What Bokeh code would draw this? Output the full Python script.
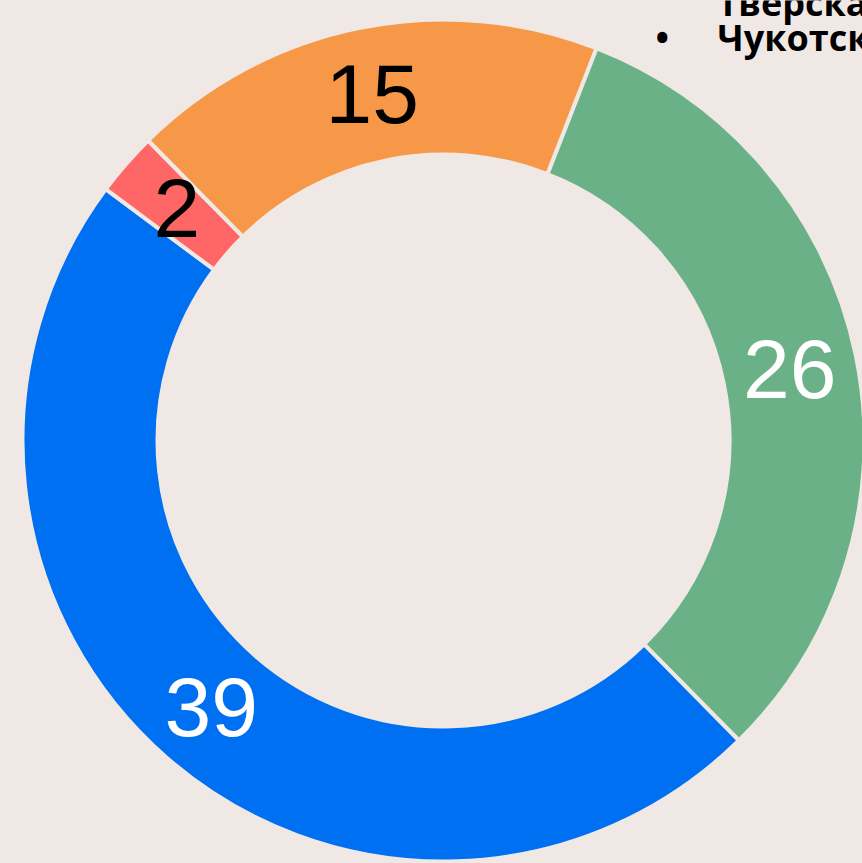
import math
from bokeh.plotting import figure
from bokeh.models import ColumnDataSource
from bokeh.core.properties import value
from bokeh.embed import file_html
from bokeh.resources import INLINE

# Data (clockwise order starting at the orange/green boundary)
categories = ["green", "blue", "red", "orange"]
values = [26, 39, 2, 15]
colors = ["#6AB187", "#0070F2", "#FF6666", "#F79848"]
label_colors = ["white", "white", "black", "black"]
legend_lines = ["Тверская область", "Чукотский автономный округ"]

BG = "#F0E8E5"
W, H = 862, 863
cx, cy = 443, H - 440
r_out, r_in = 421, 286
start_deg = 21.3

total = sum(values)
starts, ends, lx, ly, txt = [], [], [], [], []
acc = start_deg
for v in values:
    a0 = acc
    a1 = acc + v / total * 360.0
    starts.append(math.radians(90 - a0))
    ends.append(math.radians(90 - a1))
    mid = math.radians((a0 + a1) / 2)
    rm = (r_out + r_in) / 2
    lx.append(cx + rm * math.sin(mid))
    ly.append(cy + rm * math.cos(mid))
    txt.append(str(v))
    acc = a1

src = ColumnDataSource(dict(start=starts, end=ends, color=colors, x=lx, y=ly,
                            txt=txt, tc=label_colors))

p = figure(width=W, height=H, x_range=(0, W), y_range=(0, H),
           output_backend="svg", toolbar_location=None, min_border=0,
           background_fill_color=BG, border_fill_color=BG)
p.axis.visible = False
p.grid.visible = False
p.outline_line_color = None

p.annular_wedge(x=cx, y=cy, inner_radius=r_in, outer_radius=r_out,
                start_angle="start", end_angle="end", direction="clock",
                fill_color="color", line_color=BG, line_width=4, source=src)

p.text(x="x", y="y", text="txt", text_color="tc", source=src,
       text_font=value("Liberation Sans"), text_font_size="84px",
       text_align="center", text_baseline="middle")

# Legend text (partially off-canvas, as in the reference)
p.text(x=[717], y=[H - 2], text=[legend_lines[0]], text_font=value("Open Sans"),
       text_font_style="bold", text_font_size="36px", text_color="black",
       text_baseline="alphabetic")
p.text(x=[655], y=[H - 37], text=["•"], text_font=value("Open Sans"),
       text_font_style="bold", text_font_size="36px", text_color="black",
       text_baseline="alphabetic")
p.text(x=[717], y=[H - 37], text=[legend_lines[1]], text_font=value("Open Sans"),
       text_font_style="bold", text_font_size="36px", text_color="black",
       text_baseline="alphabetic")

html = file_html(p, INLINE)
html = html.replace("<body>", '<body style="background:%s">' % BG)
open("out.html", "w").write(html)
